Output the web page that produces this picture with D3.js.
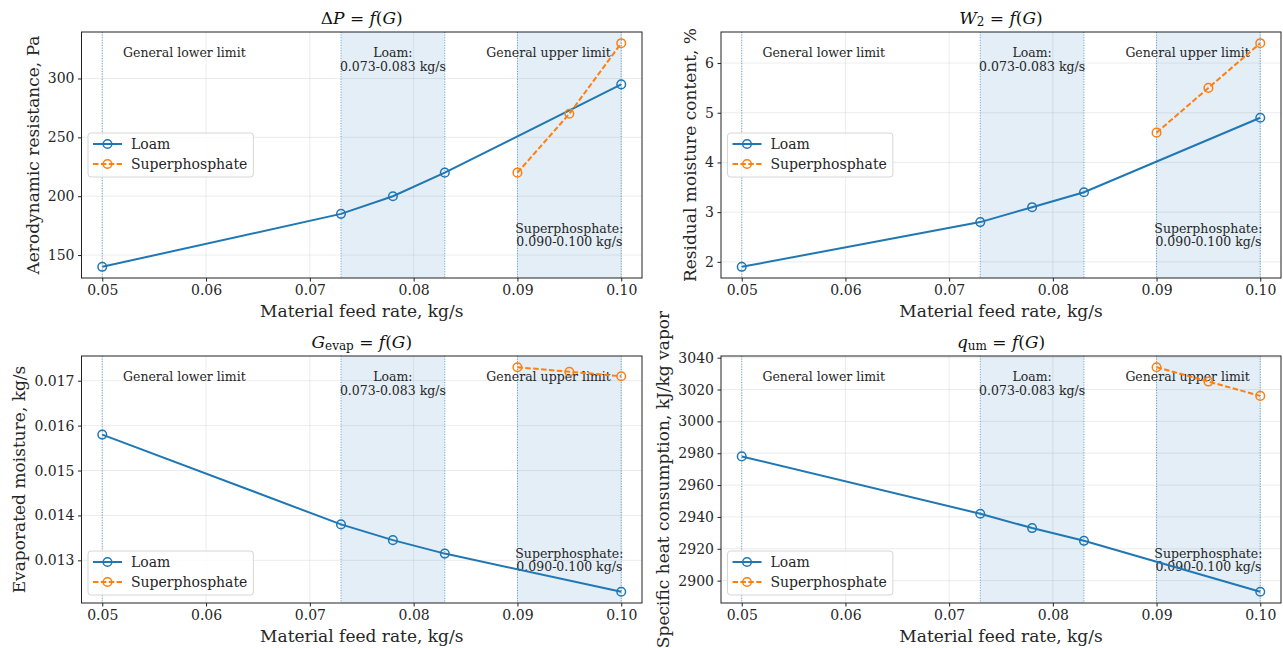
<!DOCTYPE html>
<html>
<head>
<meta charset="utf-8">
<script src="https://cdn.jsdelivr.net/npm/d3@7"></script>
<style>
  body { margin: 0; background: #fff; }
  svg { font-family: "DejaVu Serif", serif; display: block; }
</style>
</head>
<body>
<div id="chart"></div>
<script>
// data
var feedLoam = [0.05, 0.073, 0.078, 0.083, 0.10]
var feedSuper = [0.09, 0.095, 0.10]
var xTicks = [0.05, 0.06, 0.07, 0.08, 0.09, 0.10]
var limitLines = [0.05, 0.073, 0.083, 0.09, 0.10]
var bandLoam = [0.073, 0.083]
var bandSuper = [0.09, 0.10]

var dpLoam = [140, 185, 200, 220, 295]
var dpSuper = [220, 270, 330]
var w2Loam = [1.9, 2.8, 3.1, 3.4, 4.9]
var w2Super = [4.6, 5.5, 6.4]
var gevLoam = [0.0158, 0.0138, 0.01345, 0.01315, 0.0123]
var gevSuper = [0.0173, 0.0172, 0.0171]
var qLoam = [2978, 2942, 2933, 2925, 2893]
var qSuper = [3034, 3025, 3016]

var dpTicks = [150, 200, 250, 300]
var w2Ticks = [2, 3, 4, 5, 6]
var gevTicks = [0.013, 0.014, 0.015, 0.016, 0.017]
var qTicks = [2900, 2920, 2940, 2960, 2980, 3000, 3020, 3040]

var seriesNames = ["Loam", "Superphosphate"]
var xLabel = "Material feed rate, kg/s"

var width = 1283, height = 648
var blue = "#1f77b4", orange = "#ff7f0e", ink = "#262626"

var panels = [
    {box: [81.5, 32, 642, 278], loam: dpLoam, sup: dpSuper, ticks: dpTicks, fmt: d3.format("d"),
     ylabel: "Aerodynamic resistance, Pa", legendTop: 133,
     title: [["Δ", "n"], ["P", "i"], [" = ", "n"], ["f", "i"], ["(", "n"], ["G", "i"], [")", "n"]]},
    {box: [721, 32, 1281, 278], loam: w2Loam, sup: w2Super, ticks: w2Ticks, fmt: d3.format("d"),
     ylabel: "Residual moisture content, %", legendTop: 133,
     title: [["W", "i"], ["2", "s"], [" = ", "n"], ["f", "i"], ["(", "n"], ["G", "i"], [")", "n"]]},
    {box: [81.5, 356, 642, 603], loam: gevLoam, sup: gevSuper, ticks: gevTicks, fmt: d3.format(".3f"),
     ylabel: "Evaporated moisture, kg/s", legendBottom: 8,
     title: [["G", "i"], ["evap", "s"], [" = ", "n"], ["f", "i"], ["(", "n"], ["G", "i"], [")", "n"]]},
    {box: [721, 356, 1281, 603], loam: qLoam, sup: qSuper, ticks: qTicks, fmt: d3.format("d"),
     ylabel: "Specific heat consumption, kJ/kg vapor", legendBottom: 8,
     title: [["q", "i"], ["um", "s"], [" = ", "n"], ["f", "i"], ["(", "n"], ["G", "i"], [")", "n"]]}
]

var svg = d3.select("#chart").append("svg")
    .attr("width", width)
    .attr("height", height)

panels.forEach(function(p, k) {
    var x0 = p.box[0], y0 = p.box[1], x1 = p.box[2], y1 = p.box[3]
    var all = p.loam.concat(p.sup)
    var lo = d3.min(all), hi = d3.max(all), m = (hi - lo) * 0.05

    var xScale = d3.scaleLinear().domain([0.048, 0.102]).range([x0, x1])
    var yScale = d3.scaleLinear().domain([lo - m, hi + m]).range([y1, y0])

    var g = svg.append("g")
    var clipId = "clip" + k
    g.append("clipPath").attr("id", clipId)
        .append("rect").attr("x", x0).attr("y", y0).attr("width", x1 - x0).attr("height", y1 - y0)

    // grid
    g.append("g").selectAll("line").data(xTicks).enter().append("line")
        .attr("x1", d => xScale(d)).attr("x2", d => xScale(d))
        .attr("y1", y0).attr("y2", y1)
        .attr("stroke", "#b0b0b0").attr("stroke-opacity", 0.3).attr("stroke-width", 0.8)
    g.append("g").selectAll("line").data(p.ticks).enter().append("line")
        .attr("x1", x0).attr("x2", x1)
        .attr("y1", d => yScale(d)).attr("y2", d => yScale(d))
        .attr("stroke", "#b0b0b0").attr("stroke-opacity", 0.3).attr("stroke-width", 0.8)

    // shaded ranges
    g.append("g").selectAll("rect").data([bandLoam, bandSuper]).enter().append("rect")
        .attr("x", d => xScale(d[0]))
        .attr("width", d => xScale(d[1]) - xScale(d[0]))
        .attr("y", y0).attr("height", y1 - y0)
        .attr("fill", blue).attr("fill-opacity", 0.12)

    g.append("g").selectAll("line").data(limitLines).enter().append("line")
        .attr("x1", d => xScale(d)).attr("x2", d => xScale(d))
        .attr("y1", y0).attr("y2", y1)
        .attr("stroke", blue).attr("stroke-opacity", 0.7)
        .attr("stroke-width", 1).attr("stroke-dasharray", "1,1.6")

    // annotations
    var note = g.append("g").attr("font-size", "12.5px").attr("fill", ink)
        .attr("dominant-baseline", "central")
    note.append("text").attr("x", xScale(0.052)).attr("y", y0 + 20).text("General lower limit")
    note.append("text").attr("x", xScale(0.078)).attr("y", y0 + 20).attr("text-anchor", "middle").text("Loam:")
    note.append("text").attr("x", xScale(0.078)).attr("y", y0 + 34).attr("text-anchor", "middle").text("0.073-0.083 kg/s")
    note.append("text").attr("x", xScale(0.099)).attr("y", y0 + 20).attr("text-anchor", "end").text("General upper limit")
    note.append("text").attr("x", xScale(0.095)).attr("y", y1 - 50).attr("text-anchor", "middle").text("Superphosphate:")
    note.append("text").attr("x", xScale(0.095)).attr("y", y1 - 37).attr("text-anchor", "middle").text("0.090-0.100 kg/s")

    // series
    var line = d3.line().x(d => xScale(d[0])).y(d => yScale(d[1]))
    var sets = [
        {pts: d3.zip(feedLoam, p.loam), color: blue, dash: null},
        {pts: d3.zip(feedSuper, p.sup), color: orange, dash: "5.5,2.4"}
    ]
    sets.forEach(function(s) {
        var sg = g.append("g").attr("clip-path", "url(#" + clipId + ")")
        sg.append("path").datum(s.pts).attr("d", line)
            .attr("fill", "none").attr("stroke", s.color).attr("stroke-width", 2)
            .attr("stroke-dasharray", s.dash)
        sg.selectAll("circle").data(s.pts).enter().append("circle")
            .attr("cx", d => xScale(d[0])).attr("cy", d => yScale(d[1]))
            .attr("r", 4.3).attr("fill", "none")
            .attr("stroke", s.color).attr("stroke-width", 1.5)
    })

    // frame
    g.append("rect").attr("x", x0).attr("y", y0)
        .attr("width", x1 - x0).attr("height", y1 - y0)
        .attr("fill", "none").attr("stroke", "#222").attr("stroke-width", 1)

    // axes
    var xAxis = g.append("g").attr("transform", "translate(0," + y1 + ")")
        .call(d3.axisBottom(xScale).tickValues(xTicks).tickFormat(d3.format(".2f"))
            .tickSize(3.5).tickPadding(3.5))
    var yAxis = g.append("g").attr("transform", "translate(" + x0 + ",0)")
        .call(d3.axisLeft(yScale).tickValues(p.ticks).tickFormat(p.fmt)
            .tickSize(3.5).tickPadding(3.5))
    ;[xAxis, yAxis].forEach(function(a) {
        a.select(".domain").remove()
        a.selectAll("line").attr("stroke", "#222")
        a.selectAll("text").attr("fill", ink).style("font-family", "DejaVu Serif")
            .style("font-size", "14px")
    })

    // axis labels
    g.append("text").attr("x", (x0 + x1) / 2).attr("y", y1 + 33)
        .attr("text-anchor", "middle").attr("dominant-baseline", "central")
        .attr("font-size", "17px").attr("fill", ink).text(xLabel)

    var tickLeft = d3.min(yAxis.selectAll("text").nodes(), n => n.getBBox().x) + x0
    var lx = tickLeft - 15, ly = (y0 + y1) / 2
    g.append("text").attr("transform", "translate(" + lx + "," + ly + ") rotate(-90)")
        .attr("text-anchor", "middle").attr("dominant-baseline", "central")
        .attr("font-size", "17px").attr("fill", ink).text(p.ylabel)

    // title
    var t = g.append("text").attr("x", (x0 + x1) / 2).attr("y", y0 - 14)
        .attr("text-anchor", "middle").attr("dominant-baseline", "central")
        .attr("font-size", "17px").attr("fill", "#111")
    p.title.forEach(function(seg) {
        var ts = t.append("tspan").text(seg[0])
        if (seg[1] == "i") ts.attr("font-style", "italic")
        if (seg[1] == "s") ts.attr("font-size", "12px").attr("dy", 4)
        if (seg[1] != "s" && seg[0] == " = ") ts.attr("dy", ts.node().previousSibling && p.title[p.title.indexOf(seg) - 1][1] == "s" ? -4 : 0)
    })

    // legend
    var lg = g.append("g")
    var lgLeft = x0 + 6.5
    var lgTop = p.legendTop !== undefined ? p.legendTop : y1 - p.legendBottom - 44
    var lgBox = lg.append("rect").attr("x", lgLeft).attr("y", lgTop)
        .attr("height", 44).attr("rx", 3)
        .attr("fill", "#fff").attr("fill-opacity", 0.8)
        .attr("stroke", "#d6d6d6").attr("stroke-width", 1)
    var maxW = 0
    seriesNames.forEach(function(name, i) {
        var yy = lgTop + 11 + i * 20
        var hx0 = lgLeft + 5, hx1 = lgLeft + 34
        lg.append("line").attr("x1", hx0).attr("x2", hx1).attr("y1", yy).attr("y2", yy)
            .attr("stroke", sets[i].color).attr("stroke-width", 2)
            .attr("stroke-dasharray", sets[i].dash)
        lg.append("circle").attr("cx", (hx0 + hx1) / 2).attr("cy", yy).attr("r", 4.3)
            .attr("fill", "none").attr("stroke", sets[i].color).attr("stroke-width", 1.5)
        var tx = lg.append("text").attr("x", lgLeft + 43).attr("y", yy)
            .attr("dominant-baseline", "central").attr("font-size", "14px")
            .attr("fill", ink).text(name)
        maxW = Math.max(maxW, tx.node().getComputedTextLength())
    })
    lgBox.attr("width", 43 + maxW + 6)
})
</script>
</body>
</html>
